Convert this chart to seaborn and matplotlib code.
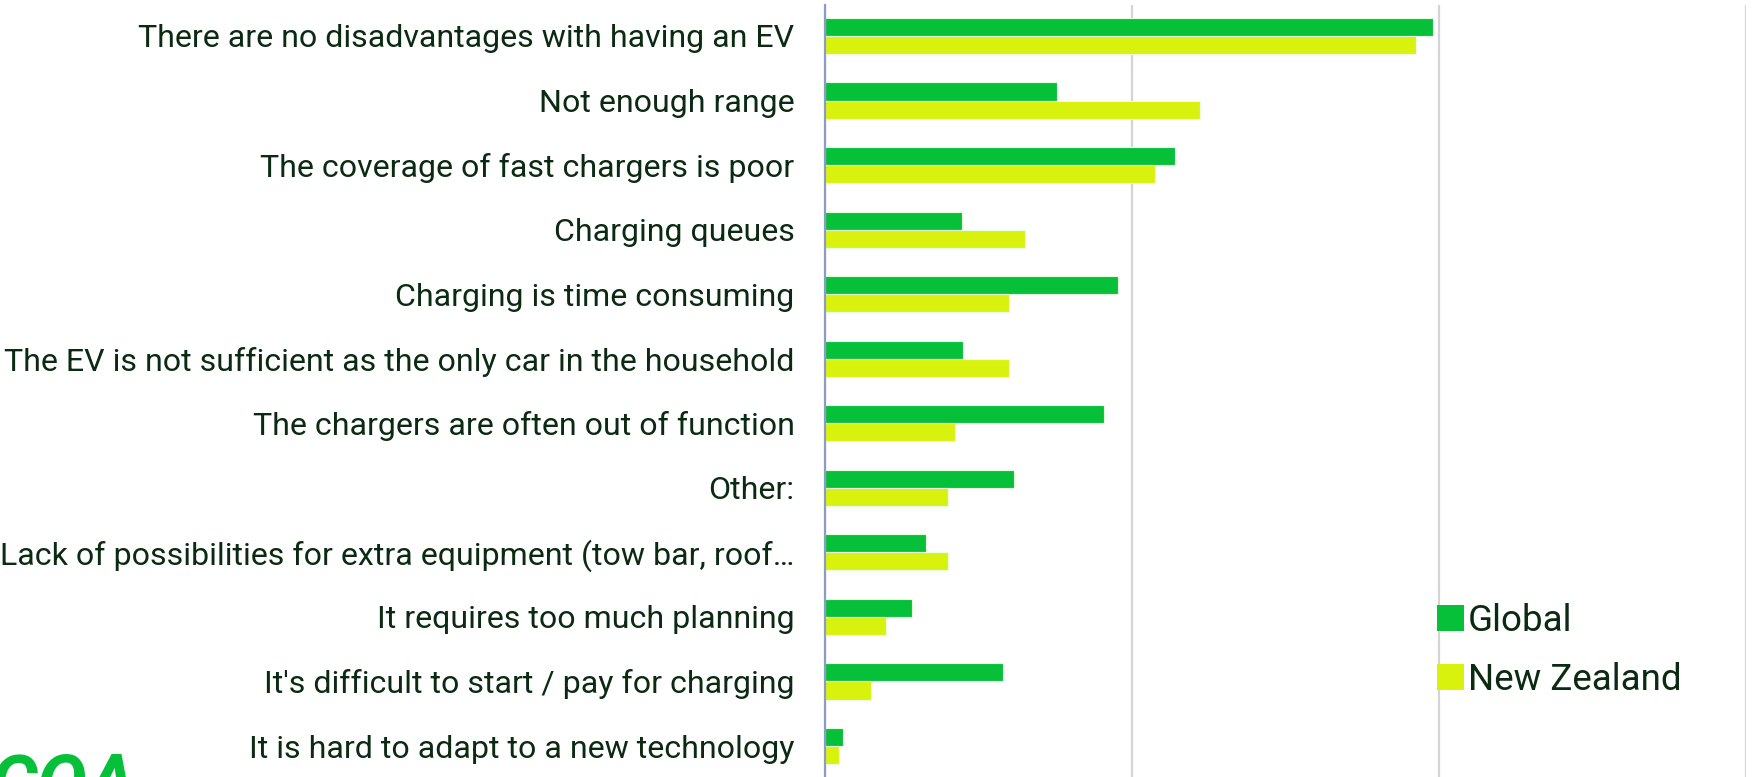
import matplotlib
matplotlib.use("Agg")
import matplotlib.pyplot as plt
import seaborn as sns
import pandas as pd
from matplotlib.patches import Patch

# Reasons (disadvantages of having an EV), top to bottom
categorias = [
    "There are no disadvantages with having an EV",
    "Not enough range",
    "The coverage of fast chargers is poor",
    "Charging queues",
    "Charging is time consuming",
    "The EV is not sufficient as the only car in the household",
    "The chargers are often out of function",
    "Other:",
    "Lack of possibilities for extra equipment (tow bar, roof\u2026",
    "It requires too much planning",
    "It's difficult to start / pay for charging",
    "It is hard to adapt to a new technology",
]
# share of respondents (%)
global_vals = [39.6, 15.1, 22.8, 8.9, 19.1, 9.0, 18.2, 12.3, 6.6, 5.7, 11.6, 1.2]
nz_vals = [38.5, 24.4, 21.5, 13.0, 12.0, 12.0, 8.5, 8.0, 8.0, 4.0, 3.0, 0.9]
series = ["Global", "New Zealand"]

verde = "#07c03a"
amarelo = "#d9f20d"
texto = "#0b2a12"

df = pd.DataFrame({
    "categoria": categorias * 2,
    "valor": global_vals + nz_vals,
    "serie": [series[0]] * len(categorias) + [series[1]] * len(categorias),
})

sns.set_theme(style="white")
plt.rcParams["font.family"] = ["Roboto", "DejaVu Sans"]

fig = plt.figure(figsize=(17.52, 7.77), dpi=100)
ax = fig.add_axes([825 / 1752, 0.0, (1746 - 825) / 1752, 772 / 777])

sns.barplot(data=df, y="categoria", x="valor", hue="serie", orient="h",
            palette=[verde, amarelo], saturation=1, width=0.56, ax=ax,
            edgecolor="#e8ffe0", linewidth=0.8, legend=False)

ax.set_xlim(0, 60)
ax.set_ylim(11.48, -0.48)
ax.set_xticks([0, 20, 40, 60])
ax.set_xticklabels([])
ax.xaxis.grid(True, color="#d4d4d4", linewidth=1.6)
ax.set_axisbelow(True)
ax.set_xlabel("")
ax.set_ylabel("")
for lado in ["top", "right", "bottom"]:
    ax.spines[lado].set_visible(False)
ax.spines["left"].set_color("#8e9cc4")
ax.spines["left"].set_linewidth(1.6)
ax.tick_params(axis="y", length=0, pad=22, labelsize=23.1, labelcolor=texto)
ax.tick_params(axis="x", length=0)

# legenda
alcas = [Patch(facecolor=verde, edgecolor="none"), Patch(facecolor=amarelo, edgecolor="none")]
fig.legend(alcas, series, loc="upper left", bbox_to_anchor=(1404 / 1752, 1 - 570 / 777),
           frameon=False, fontsize=26.5, labelcolor=texto, handlelength=0.72,
           handleheight=0.72, handletextpad=0.12, labelspacing=0.62)

# pedaço do logotipo cortado no canto
fig.text(-0.006, -0.06, "COA", color=verde, fontsize=54, fontweight="bold",
         fontstyle="italic", ha="left", va="bottom")

fig.savefig("out.png", dpi=100)
